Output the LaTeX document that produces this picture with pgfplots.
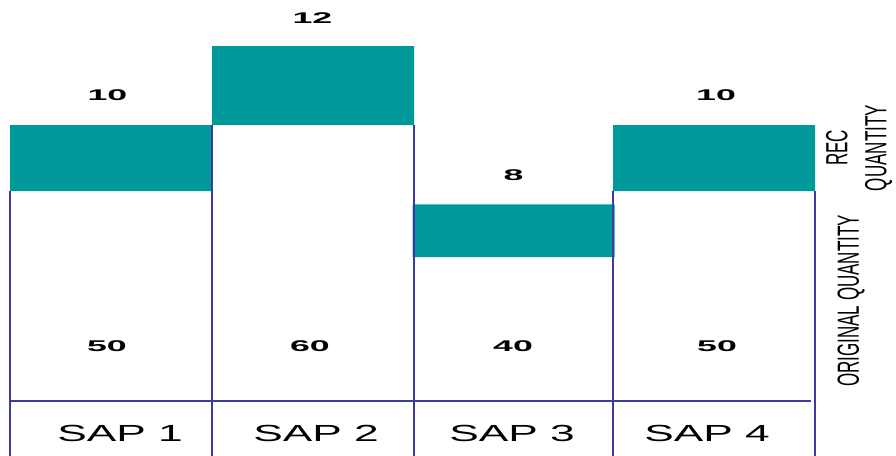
\documentclass[border=0pt]{standalone}
\usepackage{pgfplots}
\pgfplotsset{compat=1.18}
\usepackage{fontspec}
\setmainfont{Liberation Sans}
\definecolor{tealbar}{RGB}{0,153,153}
\definecolor{edge}{RGB}{58,58,162}
\pgfplotsset{base/.style={scale only axis, width=896bp, height=456bp, xmin=0, xmax=896, ymin=9.82, ymax=79.0, hide axis}}
\newcommand\num[1]{\scalebox{2.3}[1]{\fontsize{15.5bp}{18bp}\selectfont\bfseries #1}}
\newcommand\cat[1]{\scalebox{1.9}[1]{\fontsize{23.3bp}{28bp}\selectfont #1}}
\begin{document}
\begin{tikzpicture}
\begin{axis}[base, ybar stacked, bar width=202]
\addplot[draw=none, fill=none] coordinates {(111,50) (313,60) (513.5,40) (714,50)};
\addplot[draw=none, fill=tealbar] coordinates {(111,10) (313,12) (513.5,8) (714,10)};
\end{axis}
\begin{axis}[base]
\addplot[ycomb, draw=edge, line width=2.5bp, no marks] coordinates {(10,50) (212,60) (414,60) (613,50) (815,50)};
\addplot[draw=edge, line width=1.1bp, no marks] coordinates {(10,18.16) (811,18.16)};
\begin{scope}[every node/.style={inner sep=0pt}]
\node at (axis cs:107.5,64.55) {\num{10}};
\node at (axis cs:312.5,76.24) {\num{12}};
\node at (axis cs:513.5,52.41) {\num{8}};
\node at (axis cs:716,64.55) {\num{10}};
\node at (axis cs:107,26.51) {\num{50}};
\node at (axis cs:310,26.51) {\num{60}};
\node at (axis cs:513,26.51) {\num{40}};
\node at (axis cs:717,26.51) {\num{50}};
\node at (axis cs:120,13.29) {\cat{SAP 1}};
\node at (axis cs:316,13.29) {\cat{SAP 2}};
\node at (axis cs:512,13.29) {\cat{SAP 3}};
\node at (axis cs:707,13.29) {\cat{SAP 4}};
\node at (axis cs:851,33.34) {\rotatebox{90}{\scalebox{1}[1.8]{\fontsize{17bp}{20bp}\selectfont ORIGINAL QUANTITY}}};
\node at (axis cs:859,56.54) {\rotatebox{90}{\scalebox{1}[1.8]{\fontsize{17bp}{21.7bp}\selectfont\begin{tabular}{@{}c@{}}REC\\QUANTITY\end{tabular}}}};
\end{scope}
\end{axis}
\pgfresetboundingbox
\path (current axis.south west) rectangle (current axis.north east);
\end{tikzpicture}
\end{document}
